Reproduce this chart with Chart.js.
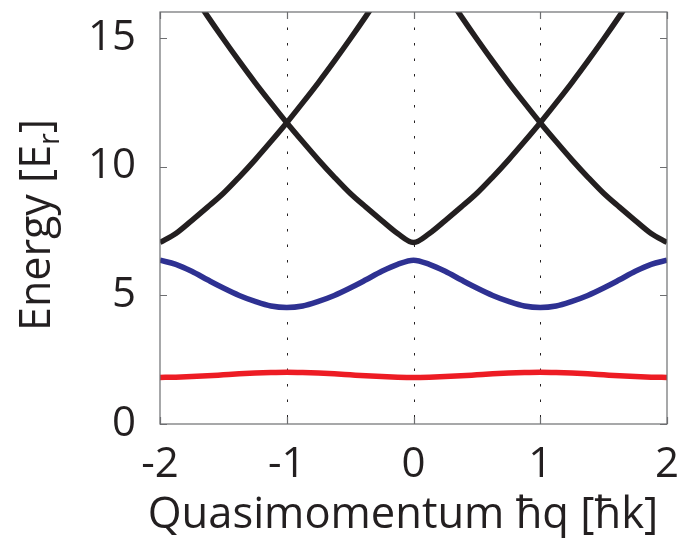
<!DOCTYPE html>
<html>
<head>
<meta charset="utf-8">
<script src="https://cdn.jsdelivr.net/npm/chart.js@4/dist/chart.umd.min.js"></script>
<style>
  html, body { margin: 0; padding: 0; background: #fff; }
  canvas { display: block; }
</style>
</head>
<body>
<canvas id="bands" width="679" height="538"></canvas>
<script>
// Band structure of an optical lattice, extended zone -2..2 hbar k

const xTicks = [-2, -1, 0, 1, 2];
const yTicks = [0, 5, 10, 15];
const dottedAt = [-1, 0, 1];
const xTitle = "Quasimomentum ħq [ħk]";

// quasimomentum grid for the two lowest bands
const qBand = [
  -2, -1.875, -1.75, -1.625, -1.5, -1.375, -1.25, -1.125, -1,
  -0.875, -0.75, -0.625, -0.5, -0.375, -0.25, -0.125, 0,
  0.125, 0.25, 0.375, 0.5, 0.625, 0.75, 0.875, 1,
  1.125, 1.25, 1.375, 1.5, 1.625, 1.75, 1.875, 2
];

const band1 = [
  1.81, 1.82, 1.84, 1.87, 1.91, 1.95, 1.98, 2.00, 2.01,
  2.00, 1.98, 1.95, 1.91, 1.87, 1.84, 1.82, 1.81,
  1.82, 1.84, 1.87, 1.91, 1.95, 1.98, 2.00, 2.01,
  2.00, 1.98, 1.95, 1.91, 1.87, 1.84, 1.82, 1.81
];

const band2 = [
  6.36, 6.20, 5.93, 5.60, 5.28, 4.99, 4.76, 4.58, 4.52,
  4.58, 4.76, 4.99, 5.28, 5.60, 5.93, 6.20, 6.36,
  6.20, 5.93, 5.60, 5.28, 4.99, 4.76, 4.58, 4.52,
  4.58, 4.76, 4.99, 5.28, 5.60, 5.93, 6.20, 6.36
];

// upper bands: three crossing parabola-like branches
const qUpperMid = [
  -1.75, -1.625, -1.5, -1.375, -1.25, -1.125, -1, -0.875, -0.75, -0.625, -0.5, -0.375, -0.25, -0.125, 0,
  0.125, 0.25, 0.375, 0.5, 0.625, 0.75, 0.875, 1, 1.125, 1.25, 1.375, 1.5, 1.625, 1.75
];
const eUpperMid = [
  16.76, 15.84, 14.95, 14.09, 13.26, 12.47, 11.70, 10.97, 10.26, 9.59, 8.96, 8.42, 7.90, 7.40, 7.05,
  7.40, 7.90, 8.42, 8.96, 9.59, 10.26, 10.97, 11.70, 12.47, 13.26, 14.09, 14.95, 15.84, 16.76
];

const qUpperLeft = [-2, -1.875, -1.75, -1.625, -1.5, -1.375, -1.25, -1.125, -1, -0.875, -0.75, -0.625, -0.5, -0.375, -0.25];
const eUpperLeft = [7.05, 7.40, 7.90, 8.42, 8.96, 9.59, 10.26, 10.97, 11.70, 12.47, 13.26, 14.09, 14.95, 15.84, 16.76];

const qUpperRight = [0.25, 0.375, 0.5, 0.625, 0.75, 0.875, 1, 1.125, 1.25, 1.375, 1.5, 1.625, 1.75, 1.875, 2];
const eUpperRight = [16.76, 15.84, 14.95, 14.09, 13.26, 12.47, 11.70, 10.97, 10.26, 9.59, 8.96, 8.42, 7.90, 7.40, 7.05];

const INK = "#231f20";
const FONT = "'Open Sans', sans-serif";

const pts = (xs, ys) => xs.map((x, i) => ({ x, y: ys[i] }));

const curve = (xs, ys, color) => ({
  data: pts(xs, ys),
  borderColor: color,
  borderWidth: 5.5,
  pointRadius: 0,
  fill: false,
  cubicInterpolationMode: "monotone",
  clip: 0
});

// box, inward ticks, dotted guides and both axis titles
const frame = {
  id: "frame",
  beforeDatasetsDraw(chart) {
    const { ctx, chartArea: a, scales: { x } } = chart;
    ctx.save();
    ctx.strokeStyle = INK;
    ctx.lineWidth = 1;
    ctx.setLineDash([2.5, 13]);
    dottedAt.forEach(v => {
      const px = Math.round(x.getPixelForValue(v)) + 0.5;
      ctx.beginPath();
      ctx.moveTo(px, a.top);
      ctx.lineTo(px, a.bottom);
      ctx.stroke();
    });
    ctx.restore();
  },
  afterDatasetsDraw(chart) {
    const { ctx, chartArea: a, scales: { x, y } } = chart;
    const tl = 7;
    ctx.save();
    ctx.strokeStyle = "#6d6e71";
    ctx.lineWidth = 1.2;
    ctx.strokeRect(a.left, a.top, a.right - a.left, a.bottom - a.top);
    ctx.beginPath();
    yTicks.forEach(v => {
      const py = Math.round(y.getPixelForValue(v)) + 0.5;
      ctx.moveTo(a.left, py); ctx.lineTo(a.left + tl, py);
      ctx.moveTo(a.right, py); ctx.lineTo(a.right - tl, py);
    });
    xTicks.forEach(v => {
      const px = Math.round(x.getPixelForValue(v)) + 0.5;
      ctx.moveTo(px, a.bottom); ctx.lineTo(px, a.bottom - tl);
      ctx.moveTo(px, a.top); ctx.lineTo(px, a.top + tl);
    });
    ctx.stroke();

    ctx.fillStyle = INK;
    ctx.textBaseline = "alphabetic";

    // x title, a little left of the plot centre
    ctx.textAlign = "center";
    ctx.font = "43.5px " + FONT;
    ctx.fillText(xTitle, 403, 528);

    // Energy [E_r], rotated, with subscript r
    const main = "Energy [E", sub = "r", tail = "]";
    ctx.textAlign = "left";
    const big = "43px " + FONT, small = "29px " + FONT;
    ctx.font = big;
    const w1 = ctx.measureText(main).width, w3 = ctx.measureText(tail).width;
    ctx.font = small;
    const w2 = ctx.measureText(sub).width;
    const total = w1 + w2 + w3;
    ctx.translate(50, 225);
    ctx.rotate(-Math.PI / 2);
    let cx = -total / 2;
    ctx.font = big;
    ctx.fillText(main, cx, 0);
    cx += w1;
    ctx.font = small;
    ctx.fillText(sub, cx, 9);
    cx += w2;
    ctx.font = big;
    ctx.fillText(tail, cx, 0);
    ctx.restore();
  }
};

new Chart(document.getElementById("bands"), {
  type: "line",
  data: {
    datasets: [
      curve(qBand, band1, "#ed1c24"),
      curve(qBand, band2, "#2e3192"),
      curve(qUpperLeft, eUpperLeft, INK),
      curve(qUpperMid, eUpperMid, INK),
      curve(qUpperRight, eUpperRight, INK)
    ]
  },
  options: {
    responsive: false,
    animation: false,
    layout: { padding: { top: 12, right: 12, left: 0, bottom: 0 } },
    plugins: { legend: { display: false }, tooltip: { enabled: false } },
    scales: {
      x: {
        type: "linear",
        min: -2,
        max: 2,
        afterBuildTicks: s => { s.ticks = xTicks.map(v => ({ value: v })); },
        afterFit: s => {
          s.height = 114;
          s.paddingLeft = 0;
          s.paddingRight = 0;
        },
        grid: { display: false },
        border: { display: false },
        ticks: {
          color: INK,
          padding: 8,
          maxRotation: 0,
          font: { family: FONT, size: 42 }
        }
      },
      y: {
        min: 0,
        max: 16,
        afterBuildTicks: s => { s.ticks = yTicks.map(v => ({ value: v })); },
        afterFit: s => {
          s.width = 160;
          s.paddingTop = 0;
          s.paddingBottom = 0;
        },
        grid: { display: false },
        border: { display: false },
        ticks: {
          color: INK,
          padding: 16,
          font: { family: FONT, size: 42 }
        }
      }
    }
  },
  plugins: [frame]
});
</script>
</body>
</html>
